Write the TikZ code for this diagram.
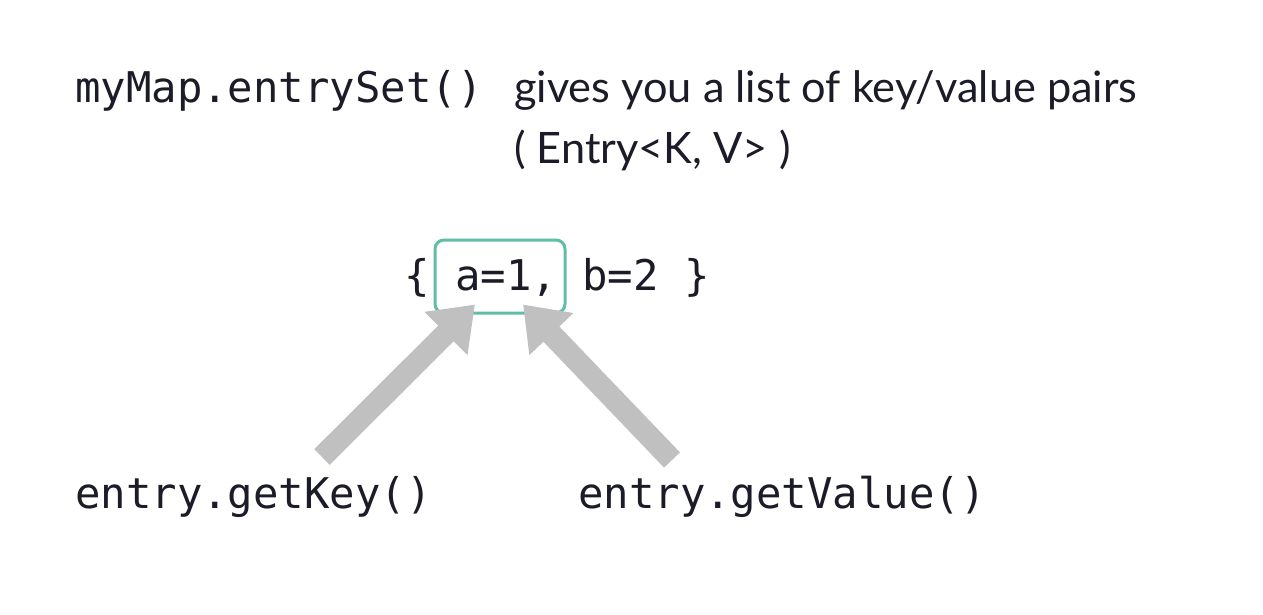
\documentclass[tikz,border=0pt]{standalone}
\usepackage{fontspec}
\setmainfont{Lato}
\setmonofont{DejaVu Sans Mono}
\usepackage{tikz}
\usetikzlibrary{arrows.meta}

\definecolor{inkdark}{RGB}{28,28,40}
\definecolor{boxteal}{RGB}{96,190,168}
\definecolor{arrowgray}{RGB}{192,192,192}

\tikzset{
  mono/.style={font=\ttfamily\fontsize{42.3}{50}\selectfont, text=inkdark, inner sep=0pt, anchor=base west},
  prose/.style={font=\fontsize{43.3}{50}\selectfont, text=inkdark, inner sep=0pt, anchor=base west},
  entrybox/.style={draw=boxteal, line width=3pt, rounded corners=9pt, inner sep=0pt},
  bigarrow/.style={draw=arrowgray, line width=22pt, -{Triangle[length=41pt, width=58pt]}}
}

\begin{document}
\begin{tikzpicture}[x=1pt,y=-1pt]
\useasboundingbox[fill=white] (0,0) rectangle (1263,615);

% top line
\node[mono] (call) at (75,103) {myMap.entrySet()};
\node[prose] (desc) at (514,103) {gives you a list of key/value pairs};
\node[prose] (descb) at (514,163) {( Entry<K, V> )};

% the map contents
\node[entrybox, minimum width=130pt, minimum height=73pt] (entry) at (500,276.5) {};
\node[mono] (pairs) at (404,290) {\{ a=1, b=2\ \}};

% labels
\node[mono] (key) at (75,508) {entry.getKey()};
\node[mono] (value) at (578,508) {entry.getValue()};

\coordinate (keyfoot) at (322,457);
\coordinate (valuefoot) at (672,460);
\draw[bigarrow] (keyfoot) -- ([xshift=-25pt,yshift=10pt]entry.south);
\draw[bigarrow] (valuefoot) -- ([xshift=23pt,yshift=10pt]entry.south);
\end{tikzpicture}
\end{document}
